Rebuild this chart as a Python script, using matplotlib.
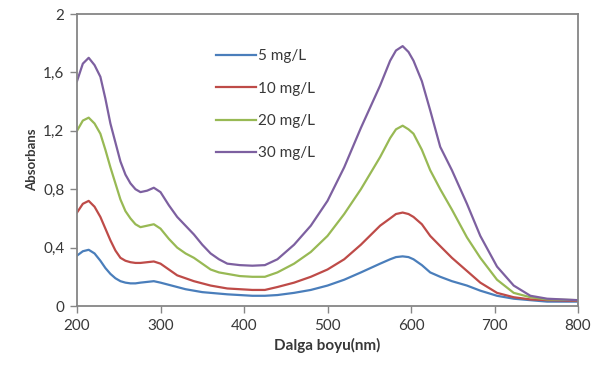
import matplotlib
matplotlib.use("Agg")
from matplotlib import pyplot as plt

plt.rcParams['font.family'] = ['Lato', 'DejaVu Sans']

# wavelength (nm)
wl = [200, 207, 214, 221, 228, 234, 240, 246, 252, 258, 264, 270, 276, 284,
      292, 300, 310, 320, 330, 340, 350, 360, 370, 380, 395, 410, 425, 440,
      460, 480, 500, 520, 540, 563, 575, 582, 590, 597, 603, 613, 623, 635,
      649, 667, 683, 703, 723, 743, 763, 800]

a5 = [0.345, 0.375, 0.385, 0.36, 0.31, 0.26, 0.22, 0.19, 0.17, 0.16,
      0.155, 0.155, 0.16, 0.165, 0.17, 0.16, 0.145, 0.13, 0.115, 0.105,
      0.095, 0.09, 0.085, 0.08, 0.075, 0.07, 0.07, 0.075, 0.09, 0.11,
      0.14, 0.18, 0.23, 0.29, 0.32, 0.335, 0.34, 0.335, 0.32, 0.28,
      0.23, 0.20, 0.17, 0.14, 0.105, 0.07, 0.05, 0.04, 0.03, 0.03]
a10 = [0.64, 0.70, 0.72, 0.68, 0.61, 0.53, 0.45, 0.38, 0.33, 0.31,
       0.30, 0.295, 0.295, 0.30, 0.305, 0.29, 0.25, 0.21, 0.19, 0.17,
       0.155, 0.14, 0.13, 0.12, 0.115, 0.11, 0.11, 0.13, 0.16, 0.20,
       0.25, 0.32, 0.42, 0.55, 0.60, 0.63, 0.64, 0.63, 0.61, 0.56,
       0.48, 0.41, 0.33, 0.24, 0.16, 0.09, 0.06, 0.045, 0.04, 0.035]
a20 = [1.20, 1.27, 1.29, 1.25, 1.18, 1.07, 0.95, 0.84, 0.73, 0.65,
       0.60, 0.56, 0.54, 0.55, 0.56, 0.53, 0.46, 0.40, 0.36, 0.33,
       0.29, 0.25, 0.23, 0.22, 0.205, 0.20, 0.20, 0.23, 0.29, 0.37,
       0.48, 0.63, 0.80, 1.02, 1.15, 1.21, 1.235, 1.21, 1.18, 1.07,
       0.93, 0.80, 0.66, 0.47, 0.33, 0.18, 0.09, 0.06, 0.045, 0.04]
a30 = [1.54, 1.66, 1.70, 1.65, 1.57, 1.42, 1.25, 1.12, 0.99, 0.90,
       0.84, 0.80, 0.78, 0.79, 0.81, 0.78, 0.69, 0.61, 0.55, 0.49,
       0.42, 0.36, 0.32, 0.29, 0.28, 0.276, 0.28, 0.32, 0.42, 0.55,
       0.72, 0.95, 1.22, 1.51, 1.68, 1.75, 1.78, 1.74, 1.68, 1.54,
       1.34, 1.09, 0.93, 0.70, 0.48, 0.27, 0.14, 0.07, 0.05, 0.04]

labels = ['5 mg/L', '10 mg/L', '20 mg/L', '30 mg/L']
colors = ['#4A7EBB', '#BE4B48', '#98B954', '#7D60A0']

fig = plt.figure(figsize=(6.02, 3.74), dpi=100)
ax = fig.add_axes([77 / 602, 1 - 306 / 374, 501 / 602, 292 / 374])

for ys, lab, c in zip([a5, a10, a20, a30], labels, colors):
    ax.plot(wl, ys, color=c, lw=1.6, label=lab, solid_joinstyle='round')

ax.set_xlim(200, 800)
ax.set_ylim(0, 2)
ax.set_xticks([200, 300, 400, 500, 600, 700, 800])
ax.set_yticks([0, 0.4, 0.8, 1.2, 1.6, 2])
ax.set_yticklabels(['0', '0,4', '0,8', '1,2', '1,6', '2'])

for s in ax.spines.values():
    s.set_color('#868686')
    s.set_linewidth(1.3)
ax.tick_params(direction='out', length=5, width=1, color='#868686',
               labelsize=11, labelcolor='#383838', pad=4)

ax.set_xlabel('Dalga boyu(nm)', fontsize=11, fontweight='bold', color='#383838')
ax.set_ylabel('Absorbans', fontsize=9.5, fontweight='bold', color='#383838')

ax.legend(loc='upper left', bbox_to_anchor=(0.262, 0.905), frameon=False,
          fontsize=11, handlelength=2.6, handletextpad=0.15, labelspacing=1.2,
          borderpad=0, labelcolor='#383838')

fig.savefig('out.png', dpi=100)
